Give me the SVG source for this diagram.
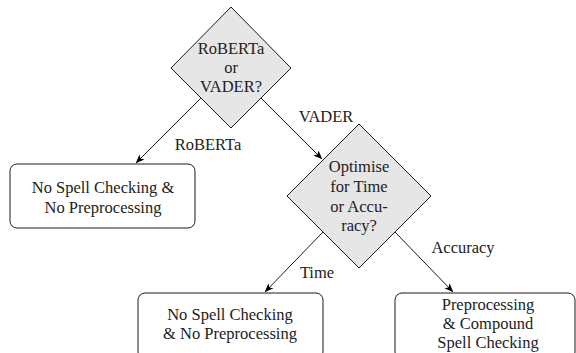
<svg xmlns="http://www.w3.org/2000/svg" width="576" height="353" viewBox="0 0 576 353">
<defs>
<marker id="arr" viewBox="0 0 10 10" refX="9.5" refY="5" markerWidth="9" markerHeight="9" markerUnits="userSpaceOnUse" orient="auto">
<path d="M0,1 L10,5 L0,9 L2.5,5 Z" fill="#000"/>
</marker>
</defs>
<style>
text{font-family:"Liberation Serif","Times New Roman",serif;font-size:16.5px;fill:#222;text-anchor:middle}
.d{fill:#e6e6e6;stroke:#000;stroke-width:0.9}
.b{fill:#fff;stroke:#000;stroke-width:0.9}
.e{fill:none;stroke:#000;stroke-width:0.9;marker-end:url(#arr)}
</style>
<rect width="576" height="353" fill="#fff"/>
<g id="connectors">
<line class="e" x1="201" y1="98" x2="136" y2="163"/>
<line class="e" x1="261" y1="98" x2="322" y2="159"/>
<line class="e" x1="323" y1="232" x2="265" y2="292"/>
<line class="e" x1="395" y1="232" x2="453" y2="292"/>
<text x="208" y="150">RoBERTa</text>
<text x="326" y="122">VADER</text>
<text x="317" y="278">Time</text>
<text x="463" y="253">Accuracy</text>
</g>
<g id="d1">
<polygon class="d" points="231,7 291,68 231,128 171,68"/>
<text x="231" y="54">RoBERTa</text>
<text x="231" y="73">or</text>
<text x="231" y="92">VADER?</text>
</g>
<g id="b1">
<rect class="b" x="10" y="164" width="185" height="64" rx="7"/>
<text x="103" y="193">No Spell Checking &amp;</text>
<text x="103" y="213">No Preprocessing</text>
</g>
<g id="d2">
<polygon class="d" points="359,124 431,196 359,268 287,196"/>
<text x="359" y="172">Optimise</text>
<text x="359" y="192">for Time</text>
<text x="359" y="212">or Accu-</text>
<text x="359" y="231">racy?</text>
</g>
<g id="b2">
<rect class="b" x="138" y="293" width="185" height="66" rx="7"/>
<text x="230" y="320">No Spell Checking</text>
<text x="230" y="339">&amp; No Preprocessing</text>
</g>
<g id="b3">
<rect class="b" x="395" y="293" width="180" height="66" rx="7"/>
<text x="488" y="310">Preprocessing</text>
<text x="488" y="329">&amp; Compound</text>
<text x="488" y="348">Spell Checking</text>
</g>
</svg>
